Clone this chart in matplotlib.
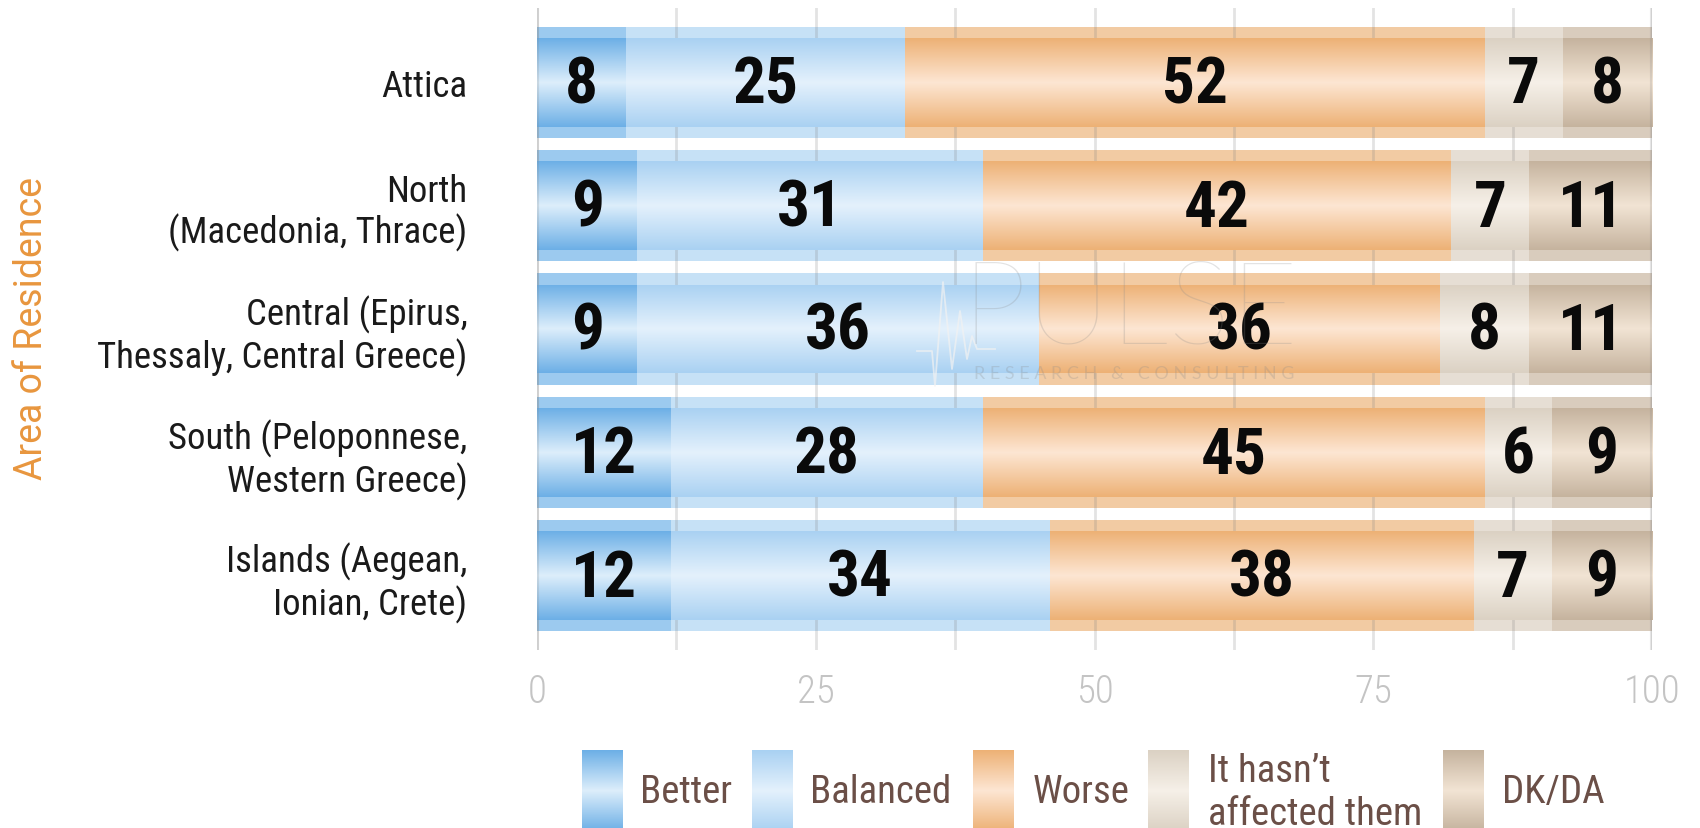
import numpy as np
import matplotlib
matplotlib.use("Agg")
import matplotlib.pyplot as plt
from matplotlib import font_manager as fm
from matplotlib.colors import to_rgb

# ---------------- data ----------------
categories = ["Attica",
              "North\n(Macedonia, Thrace)",
              "Central (Epirus,\nThessaly, Central Greece)",
              "South (Peloponnese,\nWestern Greece)",
              "Islands (Aegean,\nIonian, Crete)"]
series_names = ["Better", "Balanced", "Worse", "It hasn\u2019t\naffected them", "DK/DA"]
better = [8, 9, 9, 12, 12]
balanced = [25, 31, 36, 28, 34]
worse = [52, 42, 36, 45, 38]
not_affected = [7, 7, 8, 6, 7]
dkda = [8, 11, 11, 9, 9]
xticks = [0, 25, 50, 75, 100]
minor_xticks = [12.5, 37.5, 62.5, 87.5]
y_label = "Area of Residence"

# ---------------- styling ----------------
# (band colour, edge colour, centre colour)
palette = [
    ("#9CCAEF", "#6CAFE6", "#DDEEFB"),
    ("#C6E1F6", "#A9D1F2", "#E4F1FC"),
    ("#F2CBA3", "#EDB175", "#FDE6D3"),
    ("#E6DED4", "#DBD1C3", "#F6F0E8"),
    ("#D9CCBD", "#C5B39E", "#F2E4D4"),
]

names = {f.name for f in fm.fontManager.ttflist}
cond_family = None
for c in ["Roboto Condensed", "Liberation Sans Narrow", "Arial Narrow"]:
    if c in names:
        cond_family = c
        break
cond_stretch = "normal"
if cond_family is None:
    has_dv_cond = any(f.name == "DejaVu Sans" and str(f.stretch) in ("condensed", "semi-condensed", "600", "500")
                      for f in fm.fontManager.ttflist)
    if has_dv_cond:
        cond_family = "DejaVu Sans"
        cond_stretch = "condensed"
    else:
        cond_family = "Roboto" if "Roboto" in names else "DejaVu Sans"

W, H = 1700, 829
fig = plt.figure(figsize=(W / 100, H / 100), dpi=100)
ax = fig.add_axes([537 / W, 1 - 651 / H, (1652 - 537) / W, (651 - 9) / H])

series = [better, balanced, worse, not_affected, dkda]
ypos = np.arange(len(categories))


def gradient(edge, centre, n=256):
    t = np.linspace(0, 1, n)
    w = 1 - np.abs(2 * t - 1)
    e = np.array(to_rgb(edge))
    c = np.array(to_rgb(centre))
    img = e[None, :] + (c - e)[None, :] * w[:, None]
    return img[:, None, :]


left = np.zeros(len(categories))
for vals, (band, edge, centre) in zip(series, palette):
    vals = np.array(vals, dtype=float)
    outer = ax.barh(ypos, vals, left=left, height=0.9, color=band, zorder=2, linewidth=0)
    inner = ax.barh(ypos, vals, left=left, height=0.72, color=edge, zorder=3, linewidth=0)
    for p in inner.patches:
        x0, y0, w, h = p.get_x(), p.get_y(), p.get_width(), p.get_height()
        im = ax.imshow(gradient(edge, centre), extent=(x0, x0 + w, y0 + h, y0),
                       aspect="auto", interpolation="bilinear", zorder=3.5)
        im.set_clip_path(p)
    for yi, (l, v) in enumerate(zip(left, vals)):
        ax.text(l + v / 2, yi + 0.02, f"{int(v)}", ha="center", va="center",
                fontsize=47, fontweight="bold", family=cond_family, stretch=cond_stretch,
                color="#0a0a0a", zorder=6)
    left = left + vals

ax.set_xlim(0, 100)
ax.set_ylim(4.6, -0.6)
ax.set_xticks(xticks)
ax.set_xticks(minor_xticks, minor=True)
ax.set_xticklabels([str(t) for t in xticks], fontsize=28, color="#C4C4C4",
                   family=cond_family, fontweight="light")
ax.set_yticks(ypos)
ax.set_yticklabels(categories, fontsize=26.5, color="#1a1a1a", family=cond_family,
                   linespacing=1.15)
for lab in ax.get_yticklabels():
    lab.set_stretch(cond_stretch)
for lab in ax.get_xticklabels():
    lab.set_stretch(cond_stretch)
ax.tick_params(axis="y", length=0, pad=50)
ax.tick_params(axis="x", which="both", length=0, pad=16)
ax.grid(axis="x", which="both", color="#808080", alpha=0.22, linewidth=2, zorder=5)
ax.set_axisbelow(False)
for s in ax.spines.values():
    s.set_visible(False)
for xv in (0, 100):
    ax.axvline(xv, color="#808080", alpha=0.2, linewidth=3, zorder=5)
ax.patch.set_visible(False)

fig.text(32 / W, 1 - 329 / H, y_label, rotation=90, ha="center", va="center",
         fontsize=27, color="#E8963E", family="Roboto" if "Roboto" in names else "DejaVu Sans")

# overlay for watermark and legend
ov = fig.add_axes([0, 0, 1, 1], zorder=10)
ov.set_xlim(0, W)
ov.set_ylim(H, 0)
ov.axis("off")

wm_family = "Lato" if "Lato" in names else "DejaVu Sans"
ov.text(1130, 312, "PULSE", ha="center", va="center", fontsize=84, color="#8a8a8a",
        alpha=0.24, family=wm_family, fontweight="light")
ov.text(1134, 374, "R E S E A R C H   &   C O N S U L T I N G", ha="center", va="center",
        fontsize=13, color="#8a8a8a", alpha=0.25, family=wm_family)
hb_x = [917, 932, 935, 943, 952, 960, 967, 972, 977, 995]
hb_y = [352, 352, 387, 283, 370, 312, 360, 337, 350, 350]
ov.plot(hb_x, hb_y, color="#f2f2f2", alpha=0.7, lw=1.3)

# legend
leg_patch_x = [582, 752, 973, 1148, 1443]
leg_text_x = [640, 810, 1033, 1208, 1502]
for nm, (band, edge, centre), px, tx in zip(series_names, palette, leg_patch_x, leg_text_x):
    ov.imshow(gradient(edge, centre), extent=(px, px + 41, 832, 751), aspect="auto",
              interpolation="bilinear", zorder=2)
    ov.text(tx, 793, nm, ha="left", va="center", fontsize=28, color="#6B4F47",
            family=cond_family, stretch=cond_stretch, linespacing=1.2)
ov.set_xlim(0, W)
ov.set_ylim(H, 0)

fig.savefig("out.png", dpi=100)
